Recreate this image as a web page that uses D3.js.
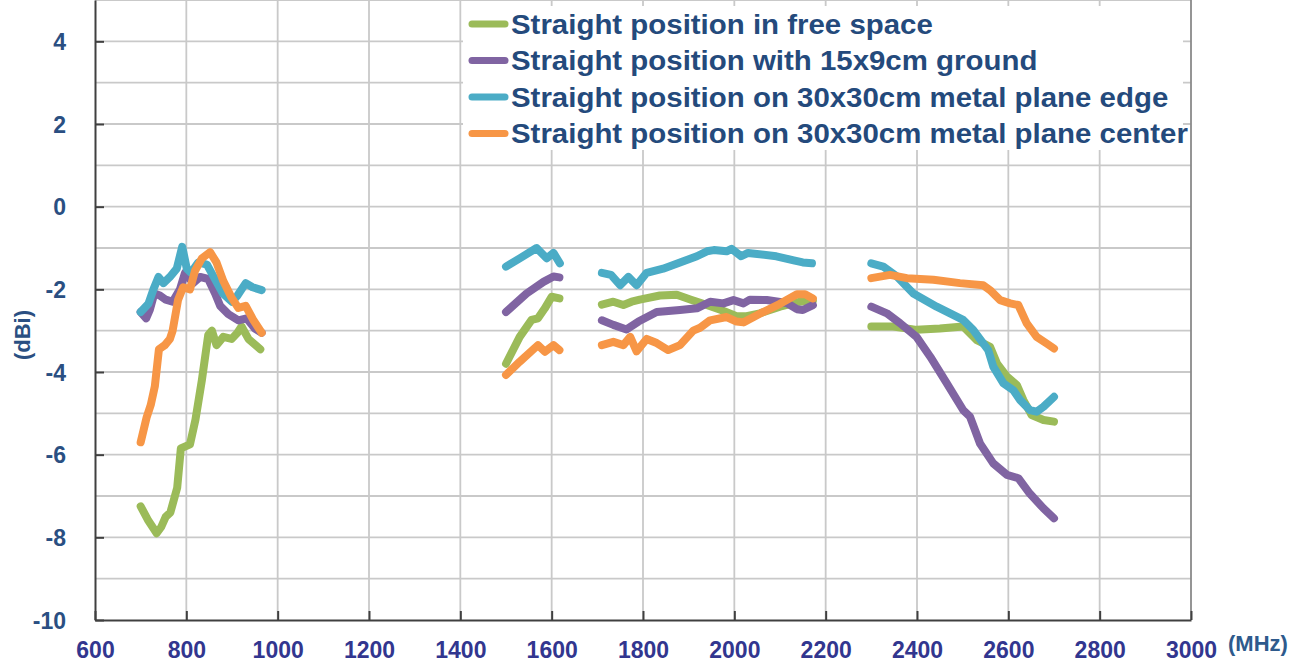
<!DOCTYPE html>
<html>
<head>
  <meta charset="utf-8">
  <script src="https://cdn.jsdelivr.net/npm/d3@7"></script>
  <style>
    body { margin: 0; background: #fff; }
    text { font-family: "Liberation Sans", Arial, sans-serif; font-weight: bold; }
  </style>
</head>
<body>
<script>
// series labels and colours (legend order = draw order)
var seriesNames = [
  "Straight position in free space",
  "Straight position with 15x9cm ground",
  "Straight position on 30x30cm metal plane edge",
  "Straight position on 30x30cm metal plane center"
];
var seriesColors = ["#9bbb59", "#8064a2", "#4bacc6", "#f79646"];

// [MHz, dBi] per measured band
var freeSpace = [
  [[700,-7.25],[717,-7.6],[735,-7.9],[745,-7.75],[755,-7.5],[765,-7.4],[780,-6.8],[788,-5.85],[808,-5.75],[820,-5.15],[834,-4.2],[848,-3.1],[856,-3.0],[866,-3.35],[881,-3.15],[899,-3.2],[912,-3.05],[921,-2.9],[936,-3.2],[962,-3.45]],
  [[1500,-3.8],[1530,-3.15],[1556,-2.74],[1570,-2.7],[1585,-2.46],[1600,-2.18],[1617,-2.22]],
  [[1710,-2.37],[1735,-2.3],[1757,-2.38],[1775,-2.3],[1793,-2.25],[1837,-2.15],[1874,-2.13],[1905,-2.25],[1927,-2.33],[1971,-2.5],[2005,-2.65],[2027,-2.65],[2056,-2.58],[2100,-2.42],[2144,-2.3],[2172,-2.27]],
  [[2300,-2.9],[2348,-2.9],[2399,-2.98],[2450,-2.95],[2501,-2.9],[2531,-3.23],[2560,-3.39],[2575,-3.79],[2597,-4.11],[2619,-4.32],[2633,-4.68],[2651,-5.04],[2677,-5.16],[2700,-5.2]]
];
var ground15x9 = [
  [[700,-2.55],[712,-2.7],[720,-2.5],[730,-2.1],[742,-2.15],[755,-2.25],[770,-2.3],[786,-2.0],[797,-1.6],[815,-1.85],[830,-1.7],[848,-1.75],[863,-2.1],[874,-2.4],[892,-2.6],[914,-2.75],[932,-2.7],[950,-2.95],[965,-3.05]],
  [[1500,-2.55],[1545,-2.1],[1582,-1.82],[1604,-1.69],[1617,-1.71]],
  [[1710,-2.75],[1735,-2.86],[1764,-2.97],[1790,-2.78],[1830,-2.55],[1881,-2.5],[1918,-2.46],[1947,-2.3],[1976,-2.34],[1998,-2.26],[2020,-2.34],[2034,-2.25],[2071,-2.26],[2115,-2.33],[2137,-2.48],[2150,-2.5],[2172,-2.38]],
  [[2300,-2.42],[2334,-2.58],[2363,-2.82],[2399,-3.15],[2429,-3.63],[2465,-4.27],[2501,-4.92],[2516,-5.08],[2538,-5.73],[2567,-6.21],[2597,-6.49],[2622,-6.57],[2647,-6.94],[2677,-7.3],[2700,-7.54]]
];
var planeEdge = [
  [[700,-2.55],[717,-2.35],[728,-2.0],[739,-1.7],[750,-1.85],[764,-1.7],[779,-1.5],[791,-0.97],[801,-1.5],[810,-1.6],[826,-1.35],[845,-1.4],[860,-1.7],[880,-2.1],[900,-2.3],[912,-2.15],[930,-1.85],[945,-1.95],[965,-2.02]],
  [[1500,-1.45],[1530,-1.25],[1567,-1.0],[1589,-1.25],[1604,-1.12],[1618,-1.37]],
  [[1710,-1.6],[1730,-1.65],[1750,-1.9],[1768,-1.7],[1786,-1.9],[1808,-1.6],[1844,-1.5],[1881,-1.35],[1918,-1.2],[1940,-1.08],[1955,-1.05],[1983,-1.08],[1994,-1.02],[2015,-1.2],[2030,-1.12],[2092,-1.2],[2130,-1.3],[2150,-1.35],[2170,-1.37]],
  [[2300,-1.37],[2326,-1.45],[2356,-1.69],[2392,-2.1],[2443,-2.42],[2501,-2.74],[2523,-2.98],[2545,-3.31],[2556,-3.47],[2567,-3.87],[2589,-4.27],[2611,-4.44],[2626,-4.68],[2647,-4.92],[2662,-4.96],[2677,-4.84],[2700,-4.6]]
];
var planeCenter = [
  [[700,-5.7],[713,-5.1],[722,-4.8],[731,-4.35],[740,-3.45],[753,-3.35],[764,-3.2],[770,-3.0],[782,-2.25],[793,-1.95],[808,-2.0],[819,-1.55],[834,-1.25],[852,-1.1],[866,-1.35],[881,-1.8],[899,-2.2],[914,-2.45],[930,-2.4],[947,-2.75],[965,-3.05]],
  [[1500,-4.07],[1530,-3.75],[1570,-3.35],[1585,-3.51],[1604,-3.35],[1617,-3.47]],
  [[1710,-3.35],[1735,-3.27],[1757,-3.35],[1772,-3.15],[1786,-3.5],[1808,-3.2],[1830,-3.3],[1855,-3.47],[1881,-3.35],[1910,-3.0],[1925,-2.93],[1947,-2.75],[1983,-2.67],[2005,-2.78],[2020,-2.8],[2063,-2.55],[2100,-2.35],[2137,-2.12],[2155,-2.12],[2172,-2.22]],
  [[2300,-1.73],[2341,-1.65],[2378,-1.73],[2436,-1.77],[2494,-1.85],[2545,-1.9],[2560,-2.02],[2582,-2.26],[2604,-2.34],[2622,-2.38],[2640,-2.82],[2662,-3.15],[2684,-3.31],[2700,-3.43]]
];

var xTicks = d3.range(600, 3001, 200);
var yTicks = d3.range(-10, 5, 2);

var allSeries = [freeSpace, ground15x9, planeEdge, planeCenter];

var width = 1303, height = 664;
var plotLeft = 95, plotRight = 1191, plotTop = 0, plotBottom = 620;

var svg = d3.select("body").append("svg")
  .attr("width", width)
  .attr("height", height);

var x = d3.scaleLinear().domain([600, 3000]).range([plotLeft, plotRight]);
var y = d3.scaleLinear().domain([-10, 5]).range([plotBottom, plotTop]);

// grid
svg.append("g").selectAll("line")
  .data(d3.range(-9, 6, 1))
  .enter().append("line")
    .attr("x1", plotLeft).attr("x2", plotRight)
    .attr("y1", d => y(d)).attr("y2", d => y(d))
    .style("stroke", "#c9c9c9").style("stroke-width", 1.8);

svg.append("g").selectAll("line")
  .data(d3.range(800, 2801, 200))
  .enter().append("line")
    .attr("x1", d => x(d)).attr("x2", d => x(d))
    .attr("y1", plotTop).attr("y2", plotBottom)
    .style("stroke", "#c9c9c9").style("stroke-width", 1.8);

// right border
svg.append("line")
  .attr("x1", plotRight).attr("x2", plotRight).attr("y1", plotTop).attr("y2", plotBottom)
  .style("stroke", "#8a8a8a").style("stroke-width", 1.8);

// legend box covers the grid
svg.append("rect")
  .attr("x", 463).attr("y", 6)
  .attr("width", 720).attr("height", 144)
  .style("fill", "#fff");

// series
var line = d3.line().x(d => x(d[0])).y(d => y(d[1]));
allSeries.forEach(function (segs, i) {
  svg.append("g").selectAll("path")
    .data(segs)
    .enter().append("path")
      .attr("d", line)
      .style("fill", "none")
      .style("stroke", seriesColors[i])
      .style("stroke-width", 8)
      .style("stroke-linecap", "round")
      .style("stroke-linejoin", "round");
});

// axes (plain hyphen minus, as in the original)
var plain = d => String(d);
var yAxis = svg.append("g")
  .attr("transform", "translate(" + plotLeft + ",0)")
  .call(d3.axisLeft(y).tickValues(yTicks).tickFormat(plain)
    .tickSize(-9).tickSizeOuter(0).tickPadding(29));
var xAxis = svg.append("g")
  .attr("transform", "translate(0," + plotBottom + ")")
  .call(d3.axisBottom(x).tickValues(xTicks).tickFormat(plain)
    .tickSize(-9).tickSizeOuter(0).tickPadding(22));

[yAxis, xAxis].forEach(function (a) {
  a.select(".domain").style("stroke", "#404040").style("stroke-width", 2);
  a.selectAll(".tick line").style("stroke", "#404040").style("stroke-width", 2);
  a.selectAll("text").style("font-size", "23px").style("font-weight", "bold")
    .style("font-family", '"Liberation Sans", Arial, sans-serif');
});
yAxis.selectAll("text").style("fill", "#2a4f82").attr("dy", "0.36em");
xAxis.selectAll("text").style("fill", "#32368f");

// axis titles
svg.append("text")
  .attr("x", 1228).attr("y", 651)
  .style("font-size", "22px").style("fill", "#2e5a8c")
  .text("(MHz)");
svg.append("text")
  .attr("transform", "translate(30,335) rotate(-90)")
  .attr("text-anchor", "middle")
  .style("font-size", "22px").style("fill", "#2a4f82")
  .text("(dBi)");

// legend
var rowY = [24, 60.5, 97, 133.5];
var legend = svg.append("g").selectAll("g")
  .data(seriesNames)
  .enter().append("g");
legend.append("line")
  .attr("x1", 472).attr("x2", 505)
  .attr("y1", (d, i) => rowY[i]).attr("y2", (d, i) => rowY[i])
  .style("stroke", (d, i) => seriesColors[i])
  .style("stroke-width", 7)
  .style("stroke-linecap", "round");
legend.append("text")
  .attr("transform", (d, i) => "translate(511," + rowY[i] + ") scale(1.09,1)")
  .attr("dy", "0.36em")
  .style("font-size", "27px")
  .style("fill", "#244a7c")
  .text(d => d);
</script>
</body>
</html>
